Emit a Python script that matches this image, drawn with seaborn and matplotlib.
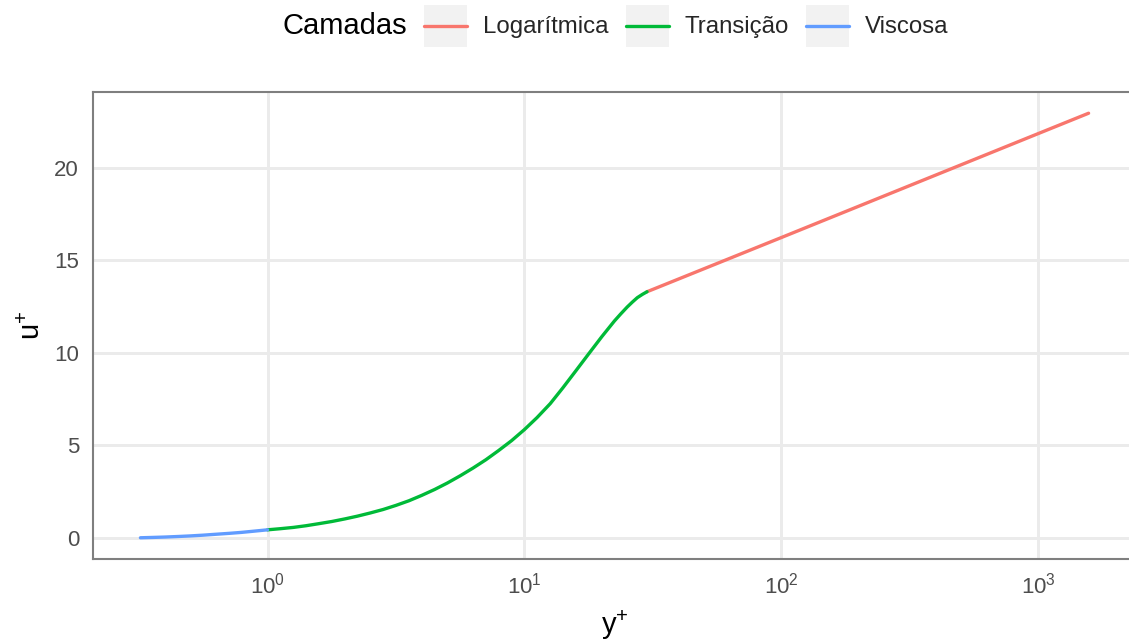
import numpy as np
import pandas as pd
import matplotlib
matplotlib.use("Agg")
import matplotlib.pyplot as plt
import seaborn as sns
from matplotlib.lines import Line2D
from matplotlib.patches import Rectangle
from matplotlib.legend_handler import HandlerBase
from matplotlib.ticker import LogFormatterMathtext, FixedLocator

# Law of the wall: velocity profile layers
visc_y = [0.32, 0.36, 0.40, 0.45, 0.50, 0.56, 0.63, 0.71, 0.79, 0.89, 1.00]
visc_u = [0.00, 0.02, 0.04, 0.07, 0.10, 0.14, 0.19, 0.24, 0.29, 0.36, 0.43]

trans_y = [1.00, 1.12, 1.26, 1.41, 1.58, 1.78, 2.00, 2.24, 2.51, 2.82,
           3.16, 3.55, 3.98, 4.47, 5.01, 5.62, 6.31, 7.08, 7.94, 8.91,
           10.0, 11.2, 12.6, 14.1, 15.8, 17.8, 20.0, 22.4, 23.7, 25.1,
           26.3, 27.5, 28.8, 30.0]
trans_u = [0.43, 0.49, 0.56, 0.65, 0.76, 0.88, 1.02, 1.17, 1.34, 1.53,
           1.75, 2.00, 2.29, 2.61, 2.96, 3.35, 3.77, 4.22, 4.72, 5.25,
           5.85, 6.50, 7.25, 8.10, 9.00, 9.95, 10.87, 11.72, 12.10, 12.47,
           12.74, 12.98, 13.16, 13.30]

log_y = [30.0, 100.0, 1000.0, 1570.0]
log_u = [13.30, 16.23, 21.85, 22.95]

layers = ["Logarítmica", "Transição", "Viscosa"]
colors = ["#F8766D", "#00BA38", "#619CFF"]
y_ticks = [0, 5, 10, 15, 20]
x_ticks = [1, 10, 100, 1000]

df = pd.concat([
    pd.DataFrame({"y+": log_y, "u+": log_u, "Camadas": "Logarítmica"}),
    pd.DataFrame({"y+": trans_y, "u+": trans_u, "Camadas": "Transição"}),
    pd.DataFrame({"y+": visc_y, "u+": visc_u, "Camadas": "Viscosa"}),
], ignore_index=True)

sns.set_theme(style="white")
plt.rcParams["font.family"] = ["Liberation Sans", "DejaVu Sans"]
plt.rcParams["mathtext.fontset"] = "custom"
plt.rcParams["mathtext.rm"] = "Liberation Sans"
plt.rcParams["mathtext.it"] = "Liberation Sans:italic"
plt.rcParams["mathtext.bf"] = "Liberation Sans:bold"

W, H = 1129, 641
fig = plt.figure(figsize=(W / 100, H / 100), dpi=100)
fig.patch.set_facecolor("white")
# panel runs slightly past the right edge of the canvas
ax = fig.add_axes([93 / W, (H - 559) / H, (1136 - 93) / W, (559 - 92) / H])

palette = dict(zip(layers, colors))
sns.lineplot(data=df, x="y+", y="u+", hue="Camadas", hue_order=layers,
             palette=palette, estimator=None, sort=False, linewidth=2.4,
             legend=False, ax=ax, zorder=3)

ax.set_xscale("log")
# ggplot-style 5% expansion of the data range
lx = np.log10([min(df["y+"]), max(df["y+"])])
pad = 0.05 * (lx[1] - lx[0])
ax.set_xlim(10 ** (lx[0] - pad), 10 ** (lx[1] + pad))
ymin, ymax = min(df["u+"]), max(df["u+"])
ypad = 0.05 * (ymax - ymin)
ax.set_ylim(ymin - ypad, ymax + ypad)

ax.xaxis.set_major_locator(FixedLocator(x_ticks))
ax.xaxis.set_major_formatter(LogFormatterMathtext())
ax.xaxis.set_minor_locator(FixedLocator([]))
ax.set_yticks(y_ticks)

ax.grid(True, which="major", color="#EBEBEB", linewidth=2.1)
ax.set_axisbelow(True)
for s in ax.spines.values():
    s.set_color("#7F7F7F")
    s.set_linewidth(1.5)
    s.set_zorder(4)

ax.tick_params(axis="both", which="major", direction="out", length=5,
               width=1.4, color="#333333", labelcolor="#4D4D4D",
               labelsize=16, pad=5)

ax.set_xlabel(r"y$^{+}$", fontsize=21, color="black", labelpad=7)
ax.set_ylabel(r"u$^{+}$", fontsize=21, color="black", labelpad=6)


class KeyHandler(HandlerBase):
    """Legend key: grey square with a horizontal line across its middle."""

    def create_artists(self, legend, orig_handle, xdescent, ydescent,
                       width, height, fontsize, trans):
        bg = Rectangle((-xdescent, -ydescent), width, height,
                       facecolor="#F2F2F2", edgecolor="none", transform=trans)
        yc = -ydescent + height / 2
        ln = Line2D([-xdescent, -xdescent + width], [yc, yc],
                    color=orig_handle.get_color(),
                    linewidth=orig_handle.get_linewidth(), transform=trans)
        return [bg, ln]


# legend on top: title on the left, keys with grey background
leg_fs = 17.3
fs_px = leg_fs / 72 * 100
key_h = (42 / fs_px - 0.245) / 0.65
handles = [Line2D([], [], color=c, linewidth=2.4) for c in colors]
fig.legend(handles, layers, handler_map={Line2D: KeyHandler()},
           loc="center left", bbox_to_anchor=(424 / W, 1 - 26 / H), ncol=3,
           frameon=False, borderpad=0, borderaxespad=0, fontsize=leg_fs,
           handlelength=43 / fs_px, handleheight=key_h,
           handletextpad=16 / fs_px, columnspacing=17 / fs_px)
fig.text(407 / W, 1 - 26 / H, "Camadas", ha="right", va="center",
         fontsize=21, color="black")

fig.savefig("out.png", dpi=100, facecolor="white")
